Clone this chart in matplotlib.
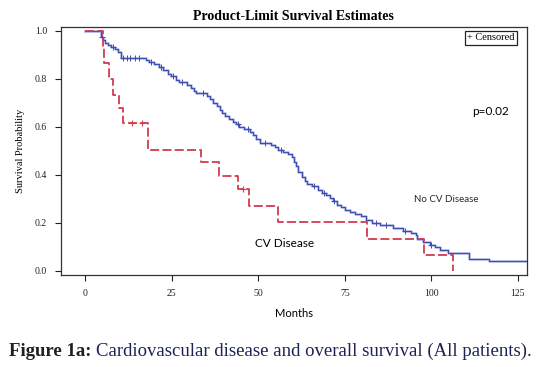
import numpy as np
import matplotlib
matplotlib.use("Agg")
import matplotlib.pyplot as plt

# ---- data ----
no_cv_times = [0, 4.5, 5.0, 5.8, 6.5, 7.5, 8.6, 9.5, 10.2, 17.5, 18.5, 20.0, 21.2, 22.6, 23.8,
               24.8, 26.2, 27.2, 29.5, 30.5, 31.5, 32.0, 35.2, 36.0, 37.0, 38.0, 38.8, 39.5,
               40.5, 41.5, 42.7, 43.5, 44.3, 46.0, 47.6, 48.5, 49.3, 50.4, 53.8, 54.8, 55.7,
               57.0, 58.5, 59.6, 60.2, 60.8, 61.5, 62.5, 63.4, 64.0, 65.5, 67.3, 68.5, 69.5,
               70.7, 71.5, 72.6, 74.0, 75.2, 76.4, 78.0, 79.8, 81.2, 83.0, 85.1, 88.9, 91.8,
               94.0, 95.5, 96.0, 97.6, 99.5, 101.0, 102.4, 104.8, 110.9, 116.8, 127.5]
no_cv_surv = [1.0, 0.975, 0.961, 0.95, 0.94, 0.933, 0.925, 0.912, 0.885, 0.878, 0.871, 0.862,
              0.85, 0.835, 0.822, 0.81, 0.797, 0.787, 0.775, 0.762, 0.75, 0.739, 0.728, 0.715,
              0.70, 0.685, 0.67, 0.656, 0.645, 0.632, 0.621, 0.61, 0.60, 0.59, 0.579, 0.565,
              0.55, 0.533, 0.525, 0.515, 0.503, 0.495, 0.485, 0.475, 0.455, 0.435, 0.412, 0.39,
              0.375, 0.364, 0.355, 0.336, 0.325, 0.315, 0.305, 0.29, 0.274, 0.265, 0.255, 0.246,
              0.237, 0.228, 0.21, 0.20, 0.19, 0.177, 0.167, 0.158, 0.148, 0.135, 0.121, 0.107,
              0.098, 0.089, 0.075, 0.048, 0.042, 0.042]
no_cv_censor = [4.8, 8.0, 11.0, 12.0, 13.0, 14.4, 15.5, 19.0, 22.0, 25.5, 28.0, 34.0, 44.0,
                47.0, 52.0, 56.5, 66.0, 69.0, 72.0, 84.0, 87.0, 92.5, 100.0]

cv_times = [0, 5.0, 5.5, 6.9, 8.1, 9.8, 11.0, 18.0, 33.4, 38.7, 44.1, 47.4, 55.7, 81.4, 98.0, 106.2]
cv_surv = [1.0, 0.933, 0.867, 0.80, 0.733, 0.677, 0.615, 0.505, 0.452, 0.395, 0.34, 0.27,
           0.203, 0.135, 0.068, 0.0]
cv_censor = [13.4, 16.3, 45.6]

x_ticks = [0, 25, 50, 75, 100, 125]
y_ticks = [0.0, 0.2, 0.4, 0.6, 0.8, 1.0]


def step_value(times, surv, t):
    idx = np.searchsorted(times, t, side="right") - 1
    return np.asarray(surv)[idx]


serif = ["Liberation Serif", "DejaVu Serif"]
sans = ["Lato", "Open Sans", "DejaVu Sans"]

fig = plt.figure(figsize=(5.4, 3.67), dpi=100)
ax = fig.add_axes([0.113, 0.25, 0.862, 0.676])

blue = "#3f4fb0"
red = "#d23a4e"

# halo + line for No CV disease
ax.plot(no_cv_times, no_cv_surv, drawstyle="steps-post", color="#c5cbeb", lw=2.0, zorder=2)
ax.plot(no_cv_times, no_cv_surv, drawstyle="steps-post", color=blue, lw=0.9, zorder=3)
ax.plot(no_cv_censor, step_value(no_cv_times, no_cv_surv, no_cv_censor), ls="none",
        marker="+", ms=4.5, mew=0.7, color=blue, zorder=3)

# CV disease dashed
ln, = ax.plot(cv_times, cv_surv, drawstyle="steps-post", color=red, lw=1.3, zorder=4)
ln.set_dashes([5.0, 1.8])
ax.plot(cv_censor, step_value(cv_times, cv_surv, cv_censor), ls="none",
        marker="+", ms=5, mew=0.8, color=red, zorder=4)

ax.set_xlim(-7, 127.5)
ax.set_ylim(-0.018, 1.015)
ax.set_xticks(x_ticks)
ax.set_xticklabels([str(v) for v in x_ticks], family=serif, fontsize=7)
ax.set_yticks(y_ticks)
ax.set_yticklabels([f"{v:.1f}" for v in y_ticks], family=serif, fontsize=7)
ax.tick_params(direction="out", length=4, width=0.8, pad=6, colors="#222222")
for s in ax.spines.values():
    s.set_linewidth(0.9)
    s.set_color("#333333")

ax.set_title("Product-Limit Survival Estimates", family=serif, fontsize=10,
             fontweight="bold", pad=5)
ax.set_ylabel("Survival Probability", family=serif, fontsize=7.5, labelpad=7)
ax.set_xlabel("Months", family=sans, fontsize=8, labelpad=7)

ax.text(111.8, 0.665, "p=0.02", family=sans, fontsize=8.5, va="center", ha="left")
ax.text(94.9, 0.297, "No CV Disease", family=sans, fontsize=7, va="center", ha="left",
        color="#2b2b2b")
ax.text(49, 0.114, "CV Disease", family=sans, fontsize=8.5, va="center", ha="left")

ax.text(0.975, 0.975, "+ Censored", transform=ax.transAxes, family=serif, fontsize=7.5,
        ha="right", va="top",
        bbox=dict(boxstyle="square,pad=0.25", fc="white", ec="#222222", lw=0.9))

cap1 = fig.text(0.017, 0.03, "Figure 1a:", family=serif, fontsize=13.5, fontweight="bold",
                color="#231f20", va="baseline")
fig.canvas.draw()
bb = cap1.get_window_extent(renderer=fig.canvas.get_renderer())
x2 = (bb.x1 + 4) / fig.bbox.width
fig.text(x2, 0.03, "Cardiovascular disease and overall survival (All patients).",
         family=serif, fontsize=13.5, color="#1c2254", va="baseline")

fig.savefig("out.png", dpi=100)
